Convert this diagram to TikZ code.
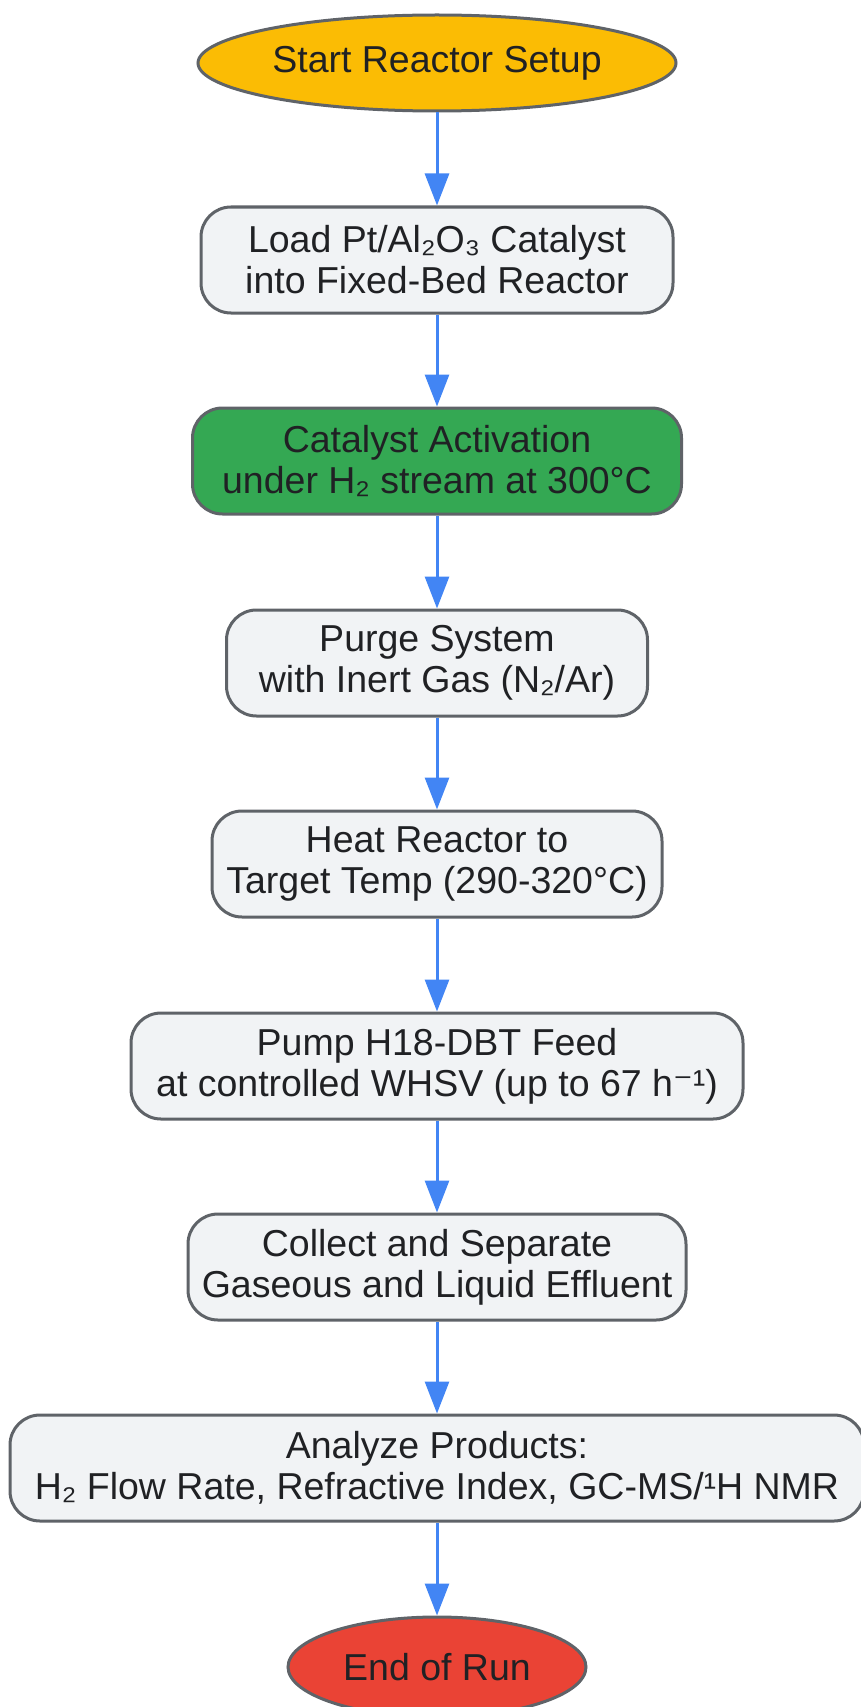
\documentclass[tikz,border=0pt]{standalone}
\usepackage{fontspec}
\setmainfont{Liberation Sans}
\newfontfamily\supfont{DejaVu Sans}
\usetikzlibrary{shapes.geometric,arrows.meta}

\definecolor{edgegray}{HTML}{5F6368}
\definecolor{boxfill}{HTML}{F1F3F5}
\definecolor{startyellow}{HTML}{FBBC04}
\definecolor{actgreen}{HTML}{34A853}
\definecolor{endred}{HTML}{EA4335}
\definecolor{flowblue}{HTML}{4285F4}
\definecolor{txt}{HTML}{202124}

\tikzset{
  procbox/.style={draw=edgegray, line width=3pt, fill=boxfill, rounded corners=30pt,
    minimum height=106pt, align=center, text=txt,
    font=\fontsize{37.5}{41}\selectfont},
  termnode/.style={ellipse, draw=edgegray, line width=3pt, inner sep=0pt,
    text=txt, font=\fontsize{37.5}{41}\selectfont},
  flow/.style={draw=flowblue, line width=3pt, -{Triangle[length=32pt,width=24pt]}}
}

\begin{document}
\begin{tikzpicture}[x=1pt,y=-1pt]

    % page frame
    \useasboundingbox (0,0) rectangle (861,1707);

    % terminals and steps
    \node[termnode, fill=startyellow, minimum width=478pt, minimum height=96pt] (start) at (437,63) {Start Reactor Setup};
    \node[procbox, minimum width=472pt] (load) at (437,260) {Load Pt/Al₂O₃ Catalyst\\into Fixed-Bed Reactor};
    \node[procbox, fill=actgreen, minimum width=489pt] (activ) at (437,461) {Catalyst Activation\\under H₂ stream at 300°C};
    \node[procbox, minimum width=421pt] (purge) at (437,663) {Purge System\\with Inert Gas (N₂/Ar)};
    \node[procbox, minimum width=450pt] (heat) at (437,864) {Heat Reactor to\\Target Temp (290-320°C)};
    \node[procbox, minimum width=612pt] (pump) at (437,1066) {Pump H18-DBT Feed\\at controlled WHSV (up to 67 h{\supfont ⁻}¹)};
    \node[procbox, minimum width=498pt] (collect) at (437,1267) {Collect and Separate\\Gaseous and Liquid Effluent};
    \node[procbox, minimum width=854pt] (analyze) at (437,1468) {Analyze Products:\\H₂ Flow Rate, Refractive Index, GC-MS/¹H NMR};
    \node[termnode, fill=endred, minimum width=298pt, minimum height=100pt] (stop) at (437,1667) {End of Run};

    % connectors
    \draw[flow] (start) -- (load);
    \draw[flow] (load) -- (activ);
    \draw[flow] (activ) -- (purge);
    \draw[flow] (purge) -- (heat);
    \draw[flow] (heat) -- (pump);
    \draw[flow] (pump) -- (collect);
    \draw[flow] (collect) -- (analyze);
    \draw[flow] (analyze) -- (stop);

\end{tikzpicture}
\end{document}
